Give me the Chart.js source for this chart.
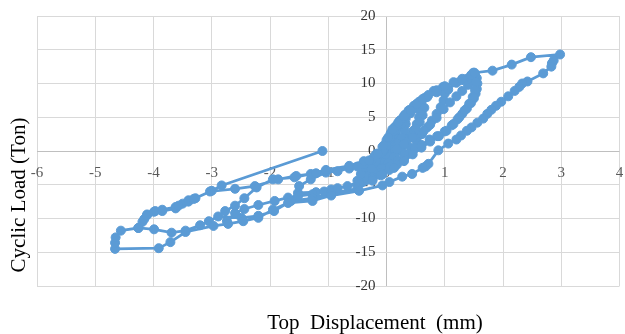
<!DOCTYPE html>
<html><head><meta charset="utf-8">
<script src="https://cdn.jsdelivr.net/npm/chart.js@4.4.1/dist/chart.umd.min.js"></script>
<style>html,body{margin:0;padding:0;background:#fff;}canvas{display:block;}</style>
</head><body>
<canvas id="c" width="625" height="334"></canvas>
<script>
// Top displacement (mm) and cyclic load (Ton), in test order
const displacement = [
0,0.02,0.05,0.08,0.12,0.15,
0.16,0.14,0.1,0.06,0.01,-0.04,-0.09,-0.14,
-0.11,-0.06,-0.01,
0.04,0.09,0.14,0.2,0.26,0.31,
0.33,0.31,0.27,0.21,0.14,0.06,-0.03,-0.12,-0.22,-0.32,
-0.27,-0.2,-0.12,-0.04,
0.03,0.1,0.17,0.25,0.33,0.41,0.49,0.56,
0.58,0.56,0.52,0.46,0.39,0.31,0.22,0.12,0.02,-0.1,-0.24,-0.39,-0.5,
-0.44,-0.37,-0.27,-0.17,-0.07,
0.02,0.09,0.16,0.24,0.32,0.4,0.5,0.6,
0.65,0.62,0.57,0.5,0.43,0.34,0.25,0.14,0.03,-0.08,-0.2,-0.3,
-0.26,-0.18,-0.1,-0.04,
0.0,0.07,0.14,0.22,0.3,0.38,0.47,0.56,0.66,0.81,0.97,
1.0,0.98,0.93,0.86,0.78,0.7,0.61,0.52,0.42,0.31,0.19,0.06,-0.1,-0.24,-0.47,-0.67,-0.95,-1.21,-1.52,
-1.5,-1.3,-1.04,-0.64,-0.39,-0.24,-0.1,
0.0,0.06,0.13,0.2,0.28,0.37,0.47,0.58,0.7,0.86,1.06,1.2,1.29,1.38,1.46,1.49,
1.55,1.56,1.55,1.53,1.5,1.45,1.38,1.3,1.22,1.12,1.0,0.87,0.74,0.6,0.49,0.38,0.3,0.18,0.05,-0.1,-0.24,
-0.47,-0.84,-1.07,-1.27,-1.52,-1.69,-1.92,-2.2,-2.44,-2.6,-2.74,
-2.77,-2.6,-2.44,-2.23,-1.95,-1.58,-1.3,-1.04,-0.64,-0.39,-0.2,-0.05,
0.18,0.3,0.45,0.64,0.75,0.86,0.98,1.09,1.2,1.3,1.4,1.47,1.52,
1.53,1.52,1.48,1.42,1.34,1.25,1.15,1.03,0.9,0.75,0.6,0.45,0.3,0.13,-0.07,-0.24,
-0.5,-0.95,-1.27,-1.64,-1.93,-2.2,-2.49,-2.89,-3.05,-3.2,-3.45,-3.69,-3.99,-4.26,
-4.19,-4.11,-3.97,-3.85,-3.62,-3.5,-3.4,-3.28,-3.03,-2.6,-2.26,-1.86,-1.55,-1.21,-0.84,-0.5,-0.3,-0.15,
-0.05,0.03,0.1,0.2,0.3,0.42,0.52,0.62,0.72,0.86,1.0,1.15,1.3,1.45,1.51,1.82,2.15,2.48,2.98,
2.87,2.84,2.83,2.69,2.42,2.33,2.28,2.2,2.09,1.97,1.88,1.8,1.73,1.66,1.56,1.46,1.38,1.28,1.2,1.06,0.89,0.72,0.67,0.62,0.44,0.27,0.05,-0.07,
-0.47,-0.95,-1.27,-1.69,-1.95,-2.2,-2.46,-2.72,-2.97,-3.45,-3.71,-3.91,-4.66,-4.66,-4.65,-4.56,-4.26,-4.16,-4.11,-3.99,-3.85,-3.62,-3.57,-3.4,-3.31,-3.0,-2.83,-1.1
];
const load = [
0,0.7,1.4,2.1,2.8,3.3,
2.6,1.8,1.0,0.2,-0.6,-1.3,-1.9,-2.4,
-1.6,-0.8,0.0,
0.9,1.8,2.7,3.6,4.3,4.9,
4.0,3.0,2.0,1.0,0.0,-0.9,-1.7,-2.4,-3.0,-3.4,
-2.5,-1.6,-0.7,0.2,
1.2,2.2,3.1,4.0,4.8,5.6,6.3,6.9,
6.0,5.0,4.0,3.0,2.0,1.0,0.0,-1.0,-1.9,-2.7,-3.4,-4.0,-4.4,
-3.4,-2.4,-1.4,-0.4,0.6,
1.8,2.8,3.7,4.6,5.4,6.1,6.8,7.4,
6.4,5.3,4.3,3.3,2.3,1.3,0.3,-0.8,-1.8,-2.6,-3.3,-3.7,
-2.6,-1.5,-0.4,0.4,
1.6,2.6,3.5,4.4,5.2,6.0,6.7,7.3,7.9,8.9,9.5,
8.5,7.5,6.5,5.5,4.5,3.5,2.5,1.5,0.5,-0.5,-1.4,-2.3,-3.2,-3.9,-4.6,-5.2,-5.7,-6.1,-6.2,
-5.2,-4.2,-3.2,-2.6,-2.0,-1.2,-0.3,
0.8,1.9,3.0,3.9,4.8,5.7,6.5,7.3,8.0,8.7,9.1,10.1,10.5,10.7,11.3,11.6,
10.8,10.0,9.2,8.5,7.8,7.1,6.3,5.5,4.7,3.8,2.9,2.2,1.7,0.9,0.4,-0.4,-1.2,-2.0,-2.8,-3.6,-4.2,
-4.9,-5.5,-6.0,-6.4,-6.7,-6.9,-7.4,-8.0,-8.6,-9.2,-10.4,
-8.9,-8.1,-7.0,-5.4,-4.2,-3.9,-3.4,-2.8,-2.2,-1.5,-0.7,0.2,
0.3,1.0,2.0,3.0,3.9,4.9,6.2,7.2,8.1,8.9,9.8,10.5,11.3,
10.2,9.0,8.0,7.0,6.0,5.0,4.0,3.0,2.2,1.4,0.5,-0.5,-1.5,-2.5,-3.5,-4.4,
-5.6,-6.2,-7.0,-7.4,-8.9,-9.6,-9.9,-9.7,-10.4,-11.0,-11.8,-12.1,-11.6,-11.4,
-10.5,-9.4,-8.9,-8.7,-8.3,-7.8,-7.3,-7.0,-6.0,-5.6,-5.2,-4.2,-3.7,-3.3,-3.0,-2.3,-1.4,-0.4,
0.8,2.0,3.2,4.2,5.1,6.0,7.0,7.7,8.3,9.0,9.6,10.2,10.7,11.2,11.6,11.9,12.8,13.9,14.3,
13.4,13.0,12.5,11.5,10.3,10.0,9.5,8.9,8.1,7.3,6.7,6.1,5.5,4.8,4.2,3.5,3.0,2.3,1.7,1.1,0.1,-1.9,-2.3,-2.5,-3.4,-3.8,-4.6,-5.1,
-5.9,-6.6,-7.4,-7.7,-8.7,-9.9,-10.4,-10.8,-11.1,-12.0,-13.5,-14.4,-14.5,-13.6,-12.8,-11.8,-11.4,-10.1,-9.5,-9.0,-8.9,-8.5,-8.1,-7.5,-7.1,-5.9,-5.1,0
];
const xTickValues = [-6,-5,-4,-3,-2,-1,0,1,2,3,4];
const yTickValues = [-20,-15,-10,-5,0,5,10,15,20];
const xTitle = 'Top  Displacement  (mm)';
const yTitle = 'Cyclic Load (Ton)';

const points = displacement.map((d, i) => ({x: d, y: load[i]}));
const serif = '"Liberation Serif", "Times New Roman", serif';

const titlePlugin = {
  id: 'axisTitles',
  afterDraw(chart) {
    const ctx = chart.ctx;
    ctx.save();
    ctx.fillStyle = '#000000';
    ctx.font = '21px ' + serif;
    ctx.textAlign = 'center';
    ctx.textBaseline = 'alphabetic';
    ctx.fillText(xTitle, 375, 329);
    ctx.translate(25, 195);
    ctx.rotate(-Math.PI / 2);
    ctx.fillText(yTitle, 0, 0);
    ctx.restore();
  }
};

const gridColor = c => (c.tick && c.tick.value === 0) ? '#bfbfbf' : '#d9d9d9';

new Chart(document.getElementById('c'), {
  type: 'scatter',
  data: {
    datasets: [{
      data: points,
      showLine: true,
      borderColor: '#5b9bd5',
      backgroundColor: '#5b9bd5',
      borderWidth: 2.75,
      pointRadius: 4.5,
      pointBorderWidth: 1,
      pointBackgroundColor: '#5b9bd5',
      pointBorderColor: '#5b9bd5',
      tension: 0
    }]
  },
  options: {
    responsive: false,
    devicePixelRatio: 1,
    animation: false,
    layout: {padding: {left: 37, top: 16, right: 1, bottom: 48}},
    plugins: {legend: {display: false}, tooltip: {enabled: false}},
    scales: {
      x: {
        type: 'linear', position: 'bottom', min: -6, max: 4,
        afterBuildTicks: s => { s.ticks = xTickValues.map(v => ({value: v})); },
        ticks: {display: false},
        grid: {color: gridColor, lineWidth: 1, drawTicks: false},
        border: {display: false}
      },
      y: {
        type: 'linear', position: 'left', min: -20, max: 20,
        afterBuildTicks: s => { s.ticks = yTickValues.map(v => ({value: v})); },
        ticks: {display: false},
        grid: {color: gridColor, lineWidth: 1, drawTicks: false},
        border: {display: false}
      },
      x2: {
        type: 'linear', axis: 'x', position: {y: -0.68}, min: -6, max: 4, z: 1,
        afterBuildTicks: s => { s.ticks = xTickValues.map(v => ({value: v})); },
        afterFit: s => { s.paddingLeft = 0; s.paddingRight = 0; },
        ticks: {color: '#595959', font: {family: serif, size: 15}, padding: 0, autoSkip: false, maxRotation: 0},
        grid: {display: false},
        border: {display: false}
      },
      y2: {
        type: 'linear', axis: 'y', position: {x: -0.19}, min: -20, max: 20, z: 1,
        afterBuildTicks: s => { s.ticks = yTickValues.map(v => ({value: v})); },
        afterFit: s => { s.paddingTop = 0; s.paddingBottom = 0; },
        ticks: {color: '#333333', font: {family: serif, size: 15}, padding: 0, autoSkip: false},
        grid: {display: false},
        border: {display: false}
      }
    }
  },
  plugins: [titlePlugin]
});
</script>
</body></html>
